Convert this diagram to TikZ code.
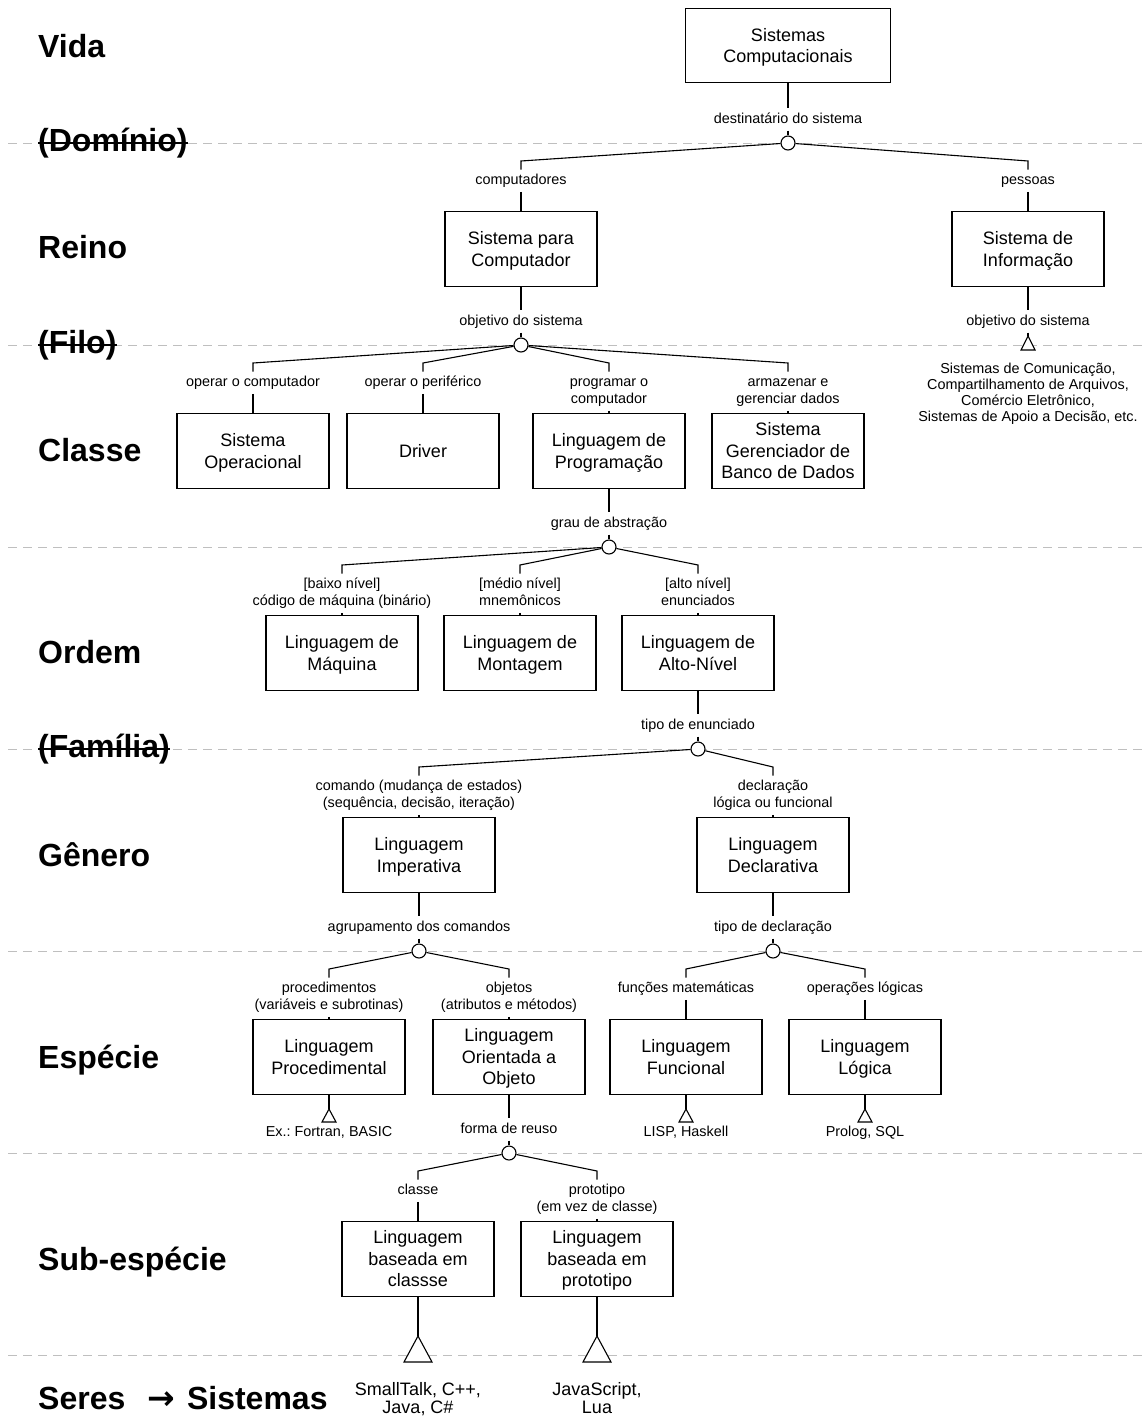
\documentclass[tikz,border=0pt]{standalone}
\usepackage{fontspec}
\setmainfont{Liberation Sans}
\newfontfamily\djv{DejaVu Sans}
\frenchspacing
\newcommand\boxfnt{\fontsize{18}{21.5}\selectfont}
\newcommand\labfnt{\fontsize{14.4}{17}\selectfont}
\newcommand\exfnt{\fontsize{14.4}{16}\selectfont}
\newcommand\exbigfnt{\fontsize{18}{17.5}\selectfont}
\newcommand\lvlfnt{\fontsize{32}{36}\selectfont\bfseries}
\newcommand\labtop{\rule{0pt}{11.5pt}}
\newcommand\labbot{\rule[-3.5pt]{0pt}{3.5pt}}
\newcommand\boxtop{\rule{0pt}{17.5pt}}
\newcommand\boxbot{\rule[-5pt]{0pt}{5pt}}
\newcommand\mkchild[6]{%
  \coordinate (e#2) at (#3,#4+18);
  \node[lab, anchor=north] (l#2) at (#3,#4+26.5) {\labtop#5\labbot};
  \node[box] (b#2) at (#3,#4+68) {\boxtop#6\boxbot};
  \draw[conn] (#1) -- (e#2) -- (l#2.north);
  \draw[conn] (l#2.south) -- (b#2.north);}
\newcommand\mkattr[5]{%
  \node[lab] (a#2) at (#3,#4-19.5) {\labtop#5\labbot};
  \node[dot] (c#2) at (#3,#4) {};
  \draw[conn] (#1.south) -- (a#2.north);
  \draw[conn] (a#2.south) -- (c#2);}
\newcommand\mktri[5]{%
  \coordinate (#1) at (#2,#3);
  \draw[tri] (#1) -- ++(-#4,#5) -- ++(2*#4,0) -- cycle;}
\begin{document}
\begin{tikzpicture}[x=1pt,y=-1pt,
 conn/.style={line width=1.1pt},
 sepline/.style={gray!50, line width=1pt, dash pattern=on 9pt off 6pt},
 box/.style={draw, line width=1.1pt, minimum width=152pt, minimum height=75pt, align=center, font=\boxfnt, inner sep=3pt, anchor=north},
 lab/.style={align=center, font=\labfnt, inner xsep=2pt, inner ysep=3.5pt, anchor=base},
 dot/.style={circle, draw, fill=white, minimum size=14pt, inner sep=0pt, line width=1.1pt},
 lvl/.style={anchor=base west, font=\lvlfnt, inner sep=0pt},
 lvlx/.style={anchor=west, font=\lvlfnt, inner sep=0pt},
 strike/.style={line width=2.6pt},
 ex/.style={align=center, font=\exfnt, inner sep=1pt, anchor=base},
 exbig/.style={align=center, font=\exbigfnt, inner sep=1pt, anchor=base},
 tri/.style={draw, fill=white, line width=1.1pt, line join=miter}
]
\useasboundingbox (0,0) rectangle (1144,1416);
\foreach \yy in {143,345,547,749,951,1153,1355} {\draw[sepline] (8,\yy) -- (1144,\yy);}

% taxonomy levels
\node[lvl] (vida) at (38,57) {Vida};
\node[lvlx] (dominio) at (38,143) {(Domínio)};
\draw[strike] (dominio.west) -- (dominio.east);
\node[lvl] (reino) at (38,258) {Reino};
\node[lvlx] (filo) at (38,345) {(Filo)};
\draw[strike] (filo.west) -- (filo.east);
\node[lvl] (classe) at (38,461) {Classe};
\node[lvl] (ordem) at (38,663) {Ordem};
\node[lvlx] (familia) at (38,749) {(Família)};
\draw[strike] (familia.west) -- (familia.east);
\node[lvl] (genero) at (38,866) {Gênero};
\node[lvl] (especie) at (38,1068) {Espécie};
\node[lvl] (subesp) at (38,1270) {Sub-espécie};
\node[lvl] (seres) at (38,1409) {Seres\hspace{22pt}{\djv\bfseries\fontsize{33}{34}\selectfont →}\hspace{12pt}Sistemas};

% tree
\node[box, minimum width=205pt, minimum height=74pt] (sc) at (788,8) {\boxtop Sistemas\\Computacionais\boxbot};
\mkattr{sc}{1}{788}{143}{destinatário do sistema}
\mkchild{c1}{11}{521}{143}{computadores}{Sistema para\\Computador}
\mkchild{c1}{12}{1028}{143}{pessoas}{Sistema de\\Informação}

\mkattr{b11}{2}{521}{345}{objetivo do sistema}
\node[lab] (a12) at (1028,325.5) {\labtop objetivo do sistema\labbot};
\mktri{t12}{1028}{336}{7}{14}
\draw[conn] (b12.south) -- (a12.north);
\draw[conn] (a12.south) -- (t12);
\node[ex] (x12) at (1028,421) {Sistemas de Comunicação,\\Compartilhamento de Arquivos,\\Comércio Eletrônico,\\Sistemas de Apoio a Decisão, etc.};

\mkchild{c2}{21}{253}{345}{operar o computador}{Sistema\\Operacional}
\mkchild{c2}{22}{423}{345}{operar o periférico}{Driver}
\mkchild{c2}{23}{609}{345}{programar o\\computador}{Linguagem de\\Programação}
\mkchild{c2}{24}{788}{345}{armazenar e\\gerenciar dados}{Sistema\\Gerenciador de\\Banco de Dados}

\mkattr{b23}{3}{609}{547}{grau de abstração}
\mkchild{c3}{31}{342}{547}{[baixo nível]\\código de máquina (binário)}{Linguagem de\\Máquina}
\mkchild{c3}{32}{520}{547}{[médio nível]\\mnemônicos}{Linguagem de\\Montagem}
\mkchild{c3}{33}{698}{547}{[alto nível]\\enunciados}{Linguagem de\\Alto-Nível}

\mkattr{b33}{4}{698}{749}{tipo de enunciado}
\mkchild{c4}{41}{419}{749}{comando (mudança de estados)\\(sequência, decisão, iteração)}{Linguagem\\Imperativa}
\mkchild{c4}{42}{773}{749}{declaração\\lógica ou funcional}{Linguagem\\Declarativa}

\mkattr{b41}{5}{419}{951}{agrupamento dos comandos}
\mkattr{b42}{6}{773}{951}{tipo de declaração}
\mkchild{c5}{51}{329}{951}{procedimentos\\(variáveis e subrotinas)}{Linguagem\\Procedimental}
\mkchild{c5}{52}{509}{951}{objetos\\(atributos e métodos)}{Linguagem\\Orientada a\\Objeto}
\mkchild{c6}{61}{686}{951}{funções matemáticas}{Linguagem\\Funcional}
\mkchild{c6}{62}{865}{951}{operações lógicas}{Linguagem\\Lógica}

\mktri{t51}{329}{1109}{7}{13}
\draw[conn] (b51.south) -- (t51);
\node[ex] (x51) at (329,1136.5) {Ex.: Fortran, BASIC};
\mktri{t61}{686}{1109}{7}{13}
\draw[conn] (b61.south) -- (t61);
\node[ex] (x61) at (686,1136.5) {LISP, Haskell};
\mktri{t62}{865}{1109}{7}{13}
\draw[conn] (b62.south) -- (t62);
\node[ex] (x62) at (865,1136.5) {Prolog, SQL};

\mkattr{b52}{7}{509}{1153}{forma de reuso}
\mkchild{c7}{71}{418}{1153}{classe}{Linguagem\\baseada em\\classse}
\mkchild{c7}{72}{597}{1153}{prototipo\\(em vez de classe)}{Linguagem\\baseada em\\prototipo}

\mktri{t71}{418}{1336}{14}{26}
\draw[conn] (b71.south) -- (t71);
\node[exbig] (x71) at (418,1413) {SmallTalk, C++,\\Java, C\#};
\mktri{t72}{597}{1336}{14}{26}
\draw[conn] (b72.south) -- (t72);
\node[exbig] (x72) at (597,1413) {JavaScript,\\Lua};
\end{tikzpicture}
\end{document}
